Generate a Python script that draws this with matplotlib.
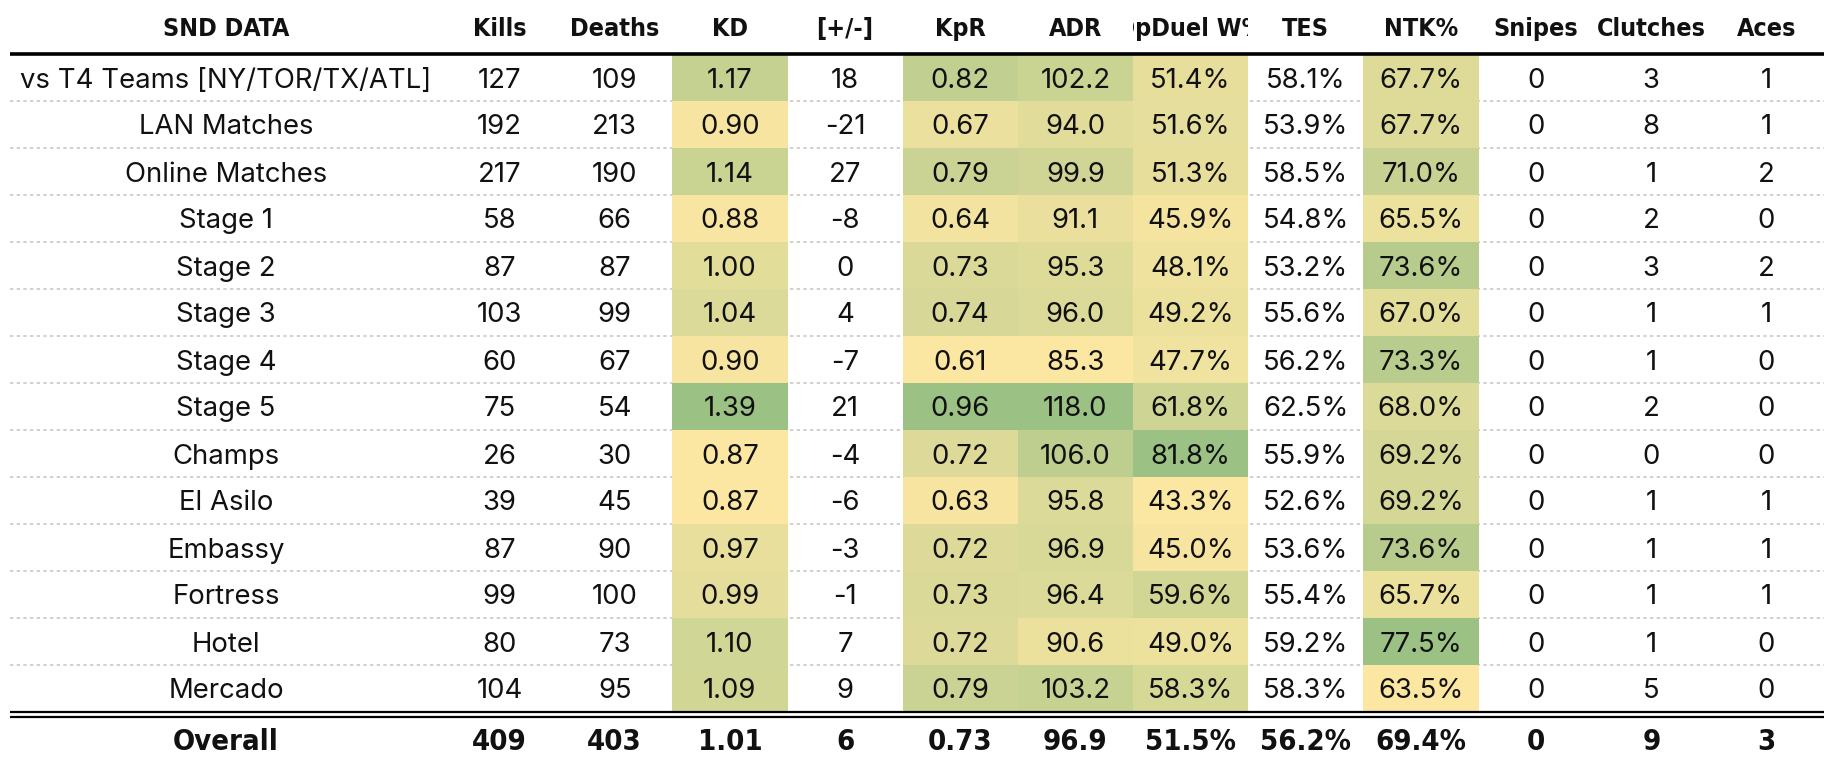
import matplotlib
matplotlib.use("Agg")
import matplotlib.pyplot as plt
from matplotlib import font_manager
from matplotlib.colors import LinearSegmentedColormap, Normalize
from matplotlib.transforms import Bbox, TransformedBbox

# ---------------- data ----------------
row_labels = ["vs T4 Teams [NY/TOR/TX/ATL]", "LAN Matches", "Online Matches", "Stage 1",
              "Stage 2", "Stage 3", "Stage 4", "Stage 5", "Champs", "El Asilo",
              "Embassy", "Fortress", "Hotel", "Mercado"]
headers = ["SND DATA", "Kills", "Deaths", "KD", "[+/-]", "KpR", "ADR", "OpDuel W%",
           "TES", "NTK%", "Snipes", "Clutches", "Aces"]
kills    = [127, 192, 217, 58, 87, 103, 60, 75, 26, 39, 87, 99, 80, 104]
deaths   = [109, 213, 190, 66, 87, 99, 67, 54, 30, 45, 90, 100, 73, 95]
kd       = [1.17, 0.90, 1.14, 0.88, 1.00, 1.04, 0.90, 1.39, 0.87, 0.87, 0.97, 0.99, 1.10, 1.09]
plusminus= [18, -21, 27, -8, 0, 4, -7, 21, -4, -6, -3, -1, 7, 9]
kpr      = [0.82, 0.67, 0.79, 0.64, 0.73, 0.74, 0.61, 0.96, 0.72, 0.63, 0.72, 0.73, 0.72, 0.79]
adr      = [102.2, 94.0, 99.9, 91.1, 95.3, 96.0, 85.3, 118.0, 106.0, 95.8, 96.9, 96.4, 90.6, 103.2]
opduel   = [51.4, 51.6, 51.3, 45.9, 48.1, 49.2, 47.7, 61.8, 81.8, 43.3, 45.0, 59.6, 49.0, 58.3]
tes      = [58.1, 53.9, 58.5, 54.8, 53.2, 55.6, 56.2, 62.5, 55.9, 52.6, 53.6, 55.4, 59.2, 58.3]
ntk      = [67.7, 67.7, 71.0, 65.5, 73.6, 67.0, 73.3, 68.0, 69.2, 69.2, 73.6, 65.7, 77.5, 63.5]
snipes   = [0] * 14
clutches = [3, 8, 1, 2, 3, 1, 1, 2, 0, 1, 1, 1, 1, 5]
aces     = [1, 1, 2, 0, 2, 1, 0, 0, 0, 1, 1, 1, 0, 0]
overall  = ["Overall", "409", "403", "1.01", "6", "0.73", "96.9", "51.5%", "56.2%",
            "69.4%", "0", "9", "3"]

columns = [
    (kills, "{:d}", False), (deaths, "{:d}", False), (kd, "{:.2f}", True),
    (plusminus, "{:d}", False), (kpr, "{:.2f}", True), (adr, "{:.1f}", True),
    (opduel, "{:.1f}%", True), (tes, "{:.1f}%", False), (ntk, "{:.1f}%", True),
    (snipes, "{:d}", False), (clutches, "{:d}", False), (aces, "{:d}", False),
]

# ---------------- fonts ----------------
avail = {f.name for f in font_manager.fontManager.ttflist}
def pick(*names):
    for n in names:
        if n in avail:
            return n
    return "DejaVu Sans"
body_font = pick("Inter", "Open Sans", "Noto Sans")
cond = [f for f in font_manager.fontManager.ttflist
        if f.name == "DejaVu Sans" and f.stretch == "condensed" and f.weight in ("bold", 700)]
if "Liberation Sans Narrow" in avail:
    head_kw = dict(family="Liberation Sans Narrow", fontweight="bold")
elif cond:
    head_kw = dict(family="DejaVu Sans", fontstretch="condensed", fontweight="bold")
else:
    head_kw = dict(family=pick("Roboto", "DejaVu Sans"), fontweight="heavy")

# ---------------- layout ----------------
W, H = 1834, 766
fig = plt.figure(figsize=(W / 100, H / 100), dpi=100)
ax = fig.add_axes([0, 0, 1, 1])
ax.set_xlim(0, W)
ax.set_ylim(H, 0)
ax.axis("off")

left, right = 10, 1824
first_w = 432
col_w = (right - left - first_w) / 12
top_line = 53.5
row_h = 47.0
nrows = len(row_labels)
bottom_line = top_line + nrows * row_h
base_off = 10.5  # baseline offset below row centre

cmap = LinearSegmentedColormap.from_list("yg", ["#FBE6A2", "#9BC184"])

def col_center(j):
    if j == 0:
        return left + first_w / 2
    return left + first_w + (j - 0.5) * col_w

# header
for j, h in enumerate(headers):
    x = col_center(j)
    t = ax.text(x, 36, h, ha="center", va="baseline", fontsize=18,
                color="#111111", **head_kw)
    if j > 0:
        x0 = left + first_w + (j - 1) * col_w
        bb = TransformedBbox(Bbox([[x0, 0], [x0 + col_w, top_line]]), ax.transData)
        t.set_clip_box(bb)
        t.set_clip_on(True)

# row separators
for i in range(1, nrows):
    y = top_line + i * row_h
    ax.plot([left, right], [y, y], ls=(0, (2, 2)), lw=1.2, color="#C8C8C8", zorder=1)

# body
for i, lab in enumerate(row_labels):
    yc = top_line + (i + 0.5) * row_h
    ax.text(col_center(0), yc + base_off, lab, ha="center", va="baseline", fontsize=19.8,
            family=body_font, color="#111111", zorder=3)

for j, (vals, fmt, colored) in enumerate(columns, start=1):
    x0 = left + first_w + (j - 1) * col_w
    if colored:
        norm = Normalize(min(vals), max(vals))
    for i, v in enumerate(vals):
        yc = top_line + (i + 0.5) * row_h
        if colored:
            ax.add_patch(plt.Rectangle((x0, top_line + i * row_h), col_w, row_h,
                                       facecolor=cmap(norm(v)), edgecolor="none", zorder=2))
        ax.text(col_center(j), yc + base_off, fmt.format(v), ha="center", va="baseline",
                fontsize=19.8, family=body_font, color="#111111", zorder=3)

# lines
ax.plot([left, right], [top_line, top_line], color="black", lw=2.6, zorder=4,
        solid_capstyle="butt")
ax.plot([left, right], [bottom_line, bottom_line], color="black", lw=1.6, zorder=4,
        solid_capstyle="butt")
ax.plot([left, right], [bottom_line + 5, bottom_line + 5], color="black", lw=1.6,
        zorder=4, solid_capstyle="butt")

# overall row
yo = bottom_line + 39
for j, s in enumerate(overall):
    ax.text(col_center(j), yo, s, ha="center", va="baseline", fontsize=21,
            color="#111111", **head_kw)

fig.savefig("out.png", dpi=100)
